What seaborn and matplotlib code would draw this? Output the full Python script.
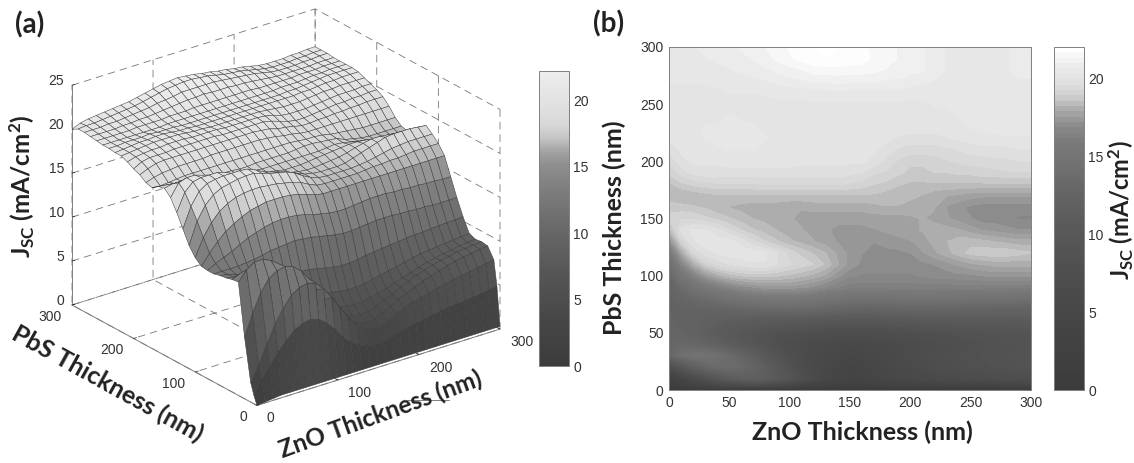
import numpy as np
import matplotlib
matplotlib.use("Agg")
import matplotlib.pyplot as plt
from matplotlib.lines import Line2D
from matplotlib.cm import ScalarMappable
from matplotlib.colors import Normalize
from mpl_toolkits.mplot3d import proj3d
import seaborn as sns

zno = np.arange(0, 301, 10)
pbs = np.array([0, 5] + list(range(10, 301, 10)))
ticks_nm = [0, 100, 200, 300]
ticks_jsc = [0, 5, 10, 15, 20, 25]

pbs_000 = [0,.1,.2,.3,.3,.3,.3,.3,.3,.3,.3,.3,.3,.3,.3,.3,.3,.3,.3,.3,.3,.3,.3,.3,.3,.3,.3,.3,.3,.3,.3]
pbs_005 = [1,2.5,3.8,5,6,6.9,7.4,7.6,7.3,6.6,5.6,4.4,3.5,2.9,2.5,2.4,2.4,2.7,3,3.2,3.4,3.5,3.7,3.9,4,4.1,4.2,4.3,4.4,4.6,4.7]
pbs_010 = [2.2,4,6,8,9.5,10.7,11.3,11.5,11.2,10.3,9,7.6,6.2,5,4.3,3.9,3.9,4.3,4.8,5.2,5.6,5.8,6,6.3,6.5,6.7,6.9,7,7.2,7.4,7.5]
pbs_020 = [7,9.5,11.5,12.8,13.4,13.6,13.3,12.5,11.3,9.8,8.4,7,5.8,5,4.5,4.3,4.4,4.8,5.3,5.8,6.2,6.6,7,7.3,7.6,7.9,8.1,8.3,8.4,8.6,8.7]
pbs_030 = [12.9,14,14.6,14.6,14.2,13.5,12.5,11.3,10,8.8,7.7,6.7,6,5.4,5,4.8,4.9,5.2,5.6,6,6.5,6.9,7.3,7.6,7.9,8.1,8.3,8.5,8.6,8.7,8.8]
pbs_040 = [12.8,13.2,13,12.5,11.8,11,10.2,9.3,8.5,7.8,7.1,6.6,6.2,5.9,5.7,5.6,5.6,5.8,6,6.3,6.6,6.9,7.2,7.5,7.8,8,8.2,8.3,8.5,8.6,8.7]
pbs_050 = [12.6,12.4,12,11.4,10.8,10.2,9.6,9.1,8.7,8.3,8,7.7,7.4,7.2,7,6.9,6.9,7,7.2,7.4,7.6,7.8,8,8.2,8.4,8.5,8.6,8.7,8.8,8.9,9]
pbs_060 = [12.5,12.3,12,11.6,11.3,11,10.8,10.6,10.5,10.3,10.1,10,9.8,9.6,9.4,9.3,9.3,9.4,9.6,9.7,9.8,9.9,10,10.1,10.2,10.2,10.3,10.3,10.4,10.4,10.5]
pbs_070 = [12.3,12.3,12.3,12.3,12.4,12.5,12.7,12.9,13,13.1,13.2,13.1,13,12.8,12.6,12.4,12.3,12.3,12.4,12.5,12.6,12.6,12.6,12.5,12.5,12.4,12.4,12.3,12.3,12.3,12.3]
pbs_080 = [12.3,12.8,13.2,13.6,14.1,14.6,14.9,15.2,15.4,15.5,15.5,15.4,15.2,14.9,14.7,14.5,14.4,14.4,14.5,14.6,14.7,14.7,14.7,14.6,14.6,14.5,14.5,14.4,14.4,14.3,14.3]
pbs_090 = [12.4,13.6,14.6,15.5,16.1,16.6,17,17.2,17.4,17.4,17.4,17.3,17.1,16.8,16.5,16.3,16.3,16.3,16.3,16.3,16.3,16.3,16.3,16.3,16.3,16.3,16.3,16.3,16.3,16.3,16.3]
pbs_100 = [13,15,16.4,17.4,18,18.4,18.6,18.7,18.7,18.6,18.5,18.3,18.1,17.8,17.3,16.9,16.8,16.8,16.8,16.8,16.8,16.9,17,17,17.1,17.1,17.2,17.3,17.3,17.3,17.3]
pbs_110 = [14,16.5,18,18.9,19.4,19.6,19.8,19.9,19.9,19.6,19.3,19.1,18.9,18.5,17.9,17.4,17.1,17,17,17,17,17.1,17.2,17.4,17.6,17.8,17.9,18,18,18,18]
pbs_120 = [15.5,17.8,19.2,19.8,20,20.1,20.1,20.1,20,19.6,19.1,18.8,18.5,18.2,17.8,17.4,17.2,17.1,17.1,17.1,17.2,17.5,17.8,18.1,18.4,18.7,18.8,18.8,18.8,18.7,18.6]
pbs_130 = [17,19,19.9,20.1,20.1,20.1,19.8,19.3,18.9,18.6,18.3,18.1,17.9,17.7,17.5,17.3,17.2,17.2,17.3,17.4,17.5,17.7,18,18.2,18.4,18.4,18.3,18.2,18.1,18,18]
pbs_140 = [18.3,19.7,20,20,19.7,19.3,18.9,18.6,18.4,18.2,18,17.9,17.7,17.6,17.4,17.4,17.4,17.5,17.6,17.7,17.8,17.9,18,18,17.9,17.7,17.5,17.4,17.3,17.2,17.2]
pbs_150 = [19,19.2,19.2,19,18.8,18.6,18.4,18.2,18.1,18,17.9,17.8,17.7,17.7,17.7,17.7,17.7,17.7,17.7,17.7,17.8,17.9,17.8,17.6,17.4,17.2,17,17,16.9,16.8,16.8]
pbs_160 = [18.8,18.7,18.6,18.5,18.3,18.2,18.1,18,18,18,17.9,17.9,18,18,18,18,18,18.1,18.2,18.2,18.1,18,17.9,17.5,17.3,17.1,17,17,17,17,17]
pbs_170 = [18.3,18.2,18.3,18.4,18.5,18.5,18.5,18.5,18.5,18.5,18.5,18.5,18.5,18.5,18.5,18.5,18.5,18.5,18.4,18.3,18.3,18.2,18,17.9,17.8,17.7,17.6,17.6,17.6,17.6,17.6]
pbs_180 = [18.5,18.8,19,19.1,19.2,19.2,19.2,19.2,19.3,19.3,19.3,19.3,19.3,19.3,19.3,19.2,19.1,18.9,18.8,18.6,18.5,18.5,18.5,18.5,18.5,18.5,18.5,18.5,18.5,18.5,18.5]
pbs_190 = [19,19.4,19.7,19.8,19.8,19.8,19.8,19.8,19.8,19.8,19.8,19.8,19.8,19.8,19.8,19.7,19.6,19.3,19.2,19,18.8,18.8,18.9,18.9,19,19,19.1,19.1,19.2,19.2,19.2]
pbs_200 = [19.3,19.8,20,20,20,20.1,20.1,20.1,20.1,20.1,20.1,20,20,20,20,20,20,19.8,19.5,19.2,19,19,19.1,19.2,19.3,19.4,19.4,19.5,19.5,19.6,19.6]
pbs_210 = [19.7,20,20.1,20.2,20.2,20.3,20.3,20.3,20.2,20.2,20.2,20.2,20.1,20.1,20.1,20.1,20.1,20,19.8,19.5,19.4,19.4,19.4,19.5,19.6,19.7,19.8,19.8,19.8,19.9,19.9]
pbs_220 = [20,20.1,20.2,20.3,20.4,20.4,20.4,20.4,20.3,20.2,20.2,20.1,20.1,20.1,20.1,20.1,20.1,20.1,20,19.9,19.8,19.8,19.8,19.9,20,20.1,20.1,20.2,20.2,20.2,20.2]
pbs_230 = [20,20.1,20.2,20.3,20.3,20.4,20.4,20.3,20.2,20.2,20.1,20.1,20.1,20.1,20.1,20.1,20.1,20.1,20.1,20.1,20.1,20.1,20.1,20.2,20.2,20.3,20.4,20.4,20.5,20.5,20.5]
pbs_240 = [20.1,20.1,20.2,20.2,20.2,20.3,20.2,20.2,20.2,20.1,20.1,20.1,20.1,20.1,20.1,20.1,20.1,20.1,20.1,20.1,20.1,20.1,20.2,20.2,20.3,20.4,20.5,20.6,20.6,20.6,20.6]
pbs_250 = [20.1,20.1,20.1,20.1,20.1,20.1,20.1,20.1,20.2,20.2,20.2,20.2,20.2,20.2,20.2,20.2,20.2,20.2,20.2,20.2,20.2,20.2,20.3,20.3,20.3,20.4,20.5,20.5,20.6,20.6,20.6]
pbs_260 = [20.2,20.2,20.2,20.2,20.2,20.3,20.3,20.3,20.3,20.4,20.4,20.4,20.5,20.5,20.5,20.5,20.5,20.5,20.5,20.5,20.4,20.4,20.4,20.4,20.4,20.5,20.5,20.5,20.6,20.6,20.6]
pbs_270 = [20.3,20.3,20.3,20.3,20.4,20.4,20.5,20.5,20.6,20.7,20.8,20.9,21,21,21.1,21,21,21,20.9,20.9,20.8,20.7,20.6,20.5,20.5,20.5,20.5,20.5,20.6,20.6,20.6]
pbs_280 = [20.4,20.4,20.4,20.5,20.5,20.6,20.7,20.8,20.9,21.1,21.2,21.3,21.5,21.5,21.5,21.5,21.5,21.4,21.3,21.2,21.1,21,20.8,20.6,20.5,20.5,20.5,20.6,20.6,20.7,20.7]
pbs_290 = [20.4,20.5,20.5,20.6,20.7,20.8,20.9,21,21.2,21.4,21.6,21.8,21.9,22,22,21.9,21.8,21.6,21.4,21.3,21.2,21,20.8,20.6,20.5,20.5,20.5,20.6,20.6,20.7,20.7]
pbs_300 = [20,20.4,20.6,20.7,20.8,20.9,21,21.1,21.3,21.5,21.7,21.9,22,22.1,22,21.9,21.7,21.6,21.4,21.3,21.1,21,20.8,20.6,20.5,20.5,20.5,20.6,20.6,20.7,20.7]

jsc = np.array([pbs_000, pbs_005, pbs_010, pbs_020, pbs_030, pbs_040, pbs_050, pbs_060, pbs_070,
                pbs_080, pbs_090, pbs_100, pbs_110, pbs_120, pbs_130, pbs_140, pbs_150, pbs_160,
                pbs_170, pbs_180, pbs_190, pbs_200, pbs_210, pbs_220, pbs_230, pbs_240, pbs_250,
                pbs_260, pbs_270, pbs_280, pbs_290, pbs_300])

grays_b = ["#3c3c3c","#3e3e3e","#404040","#424242","#444444","#474747","#4a4a4a","#4d4d4d","#505050","#545454",
           "#585858","#5c5c5c","#616161","#666666","#6e6e6e","#747474","#7a7a7a","#8a8a8a","#a8a8a8","#d0d0d0",
           "#e2e2e2","#ececec","#ffffff"]
grays_a = ["#3c3c3c","#3f3f3f","#424242","#454545","#494949","#4e4e4e","#525252","#565656","#5c5c5c","#616161",
           "#676767","#6e6e6e","#757575","#7c7c7c","#858585","#8f8f8f","#a2a2a2","#c4c4c4","#d8d8d8","#dedede",
           "#e4e4e4","#e8e8e8","#eeeeee"]

W, H = 1134, 463
sns.set_theme(style="white")
plt.rcParams.update({"font.family": "Liberation Sans", "mathtext.fontset": "custom",
                     "mathtext.bf": "Lato:bold", "mathtext.rm": "Lato:bold", "mathtext.default": "bf"})
cmap_a = sns.blend_palette(grays_a, n_colors=256, as_cmap=True)
cmap_b = sns.blend_palette(grays_b, n_colors=256, as_cmap=True)
TICK = "#333333"
LINE = "#808080"
LABEL = dict(family="Lato", weight="bold", size=17.5, color="#222222")

fig = plt.figure(figsize=(W / 100, H / 100), dpi=100, facecolor="white")

def box(l, t, r, b):
    return [l / W, 1 - b / H, (r - l) / W, (b - t) / H]

# ---------- panel (a)
ax = fig.add_axes(box(60, 0, 500, 440), projection="3d", facecolor="none")
ax.set_proj_type("ortho")
ax.view_init(elev=24.4, azim=-127.25)
ax.set_box_aspect((1, 1, 0.79))
ax.set_xlim(0, 300, view_margin=0)
ax.set_ylim(0, 300, view_margin=0)
ax.set_zlim(0, 25, view_margin=0)
X, Y = np.meshgrid(zno, pbs)
ax.plot_surface(X, Y, jsc, cmap=cmap_a, vmin=0, vmax=22.2, rstride=1, cstride=1,
                edgecolor="#3a3a3a", linewidth=0.35, shade=False, antialiased=True)
ax.set_xticks(ticks_nm)
ax.set_yticks(ticks_nm)
ax.set_zticks(ticks_jsc)
ax.tick_params(axis="both", labelleft=False, labelbottom=False, labelright=False, labeltop=False,
               labelcolor=(1, 1, 1, 0), labelsize=1)
for axis in (ax.xaxis, ax.yaxis, ax.zaxis):
    axis.set_major_formatter(matplotlib.ticker.NullFormatter())
    axis.set_pane_color((1, 1, 1, 0))
    axis.pane.set_edgecolor((1, 1, 1, 0))
    axis.line.set_color(LINE)
    axis.line.set_linewidth(0.7)
    axis._axinfo["grid"].update(color="#777777", linestyle=(0, (9, 6)), linewidth=0.6)
    axis._axinfo["tick"].update(inward_factor=0.0, outward_factor=0.15, linewidth={True: 0.5, False: 0.5})

# fit the projected box onto its place in the figure
def to_pixels(x, y, z):
    u, v, _ = proj3d.proj_transform(x, y, z, ax.get_proj())
    return np.array(ax.transData.transform((u, v)))

pL, pR = to_pixels(0, 300, 0), to_pixels(300, 0, 0)
S0 = 440.0
c0 = np.array([280.0, H - 220.0])
s = (500 - 72) / (pR[0] - pL[0])
S = S0 * s
cen = np.array([72.0, H - 305.0]) - s * (pL - c0)
ax.set_position(box(cen[0] - S / 2, H - cen[1] - S / 2, cen[0] + S / 2, H - cen[1] + S / 2))

# tick labels of the 3D axes, anchored on the projected ticks
def tick_text(x, y, z, dx, dy, label, ha):
    p = to_pixels(x, y, z)
    fig.text((p[0] + dx) / W, (p[1] - dy) / H, label, ha=ha, va="center", fontsize=10, color=TICK)

for t in ticks_nm:
    tick_text(t, 0, 0, 10, 13, str(t), "left")
    tick_text(0, t, 0, -10, 12, str(t), "right")
for t in ticks_jsc:
    tick_text(0, 300, t, -8, -4, str(t), "right")

cax_a = fig.add_axes(box(539, 71, 569, 366))
cb_a = fig.colorbar(ScalarMappable(Normalize(0, 22.2), cmap_a), cax=cax_a, ticks=[0, 5, 10, 15, 20])
cb_a.outline.set_edgecolor(LINE)
cb_a.outline.set_linewidth(0.7)
cax_a.tick_params(axis="y", direction="in", length=3, width=0.5, color="#666666", left=True, right=True,
                  labelsize=10, labelcolor=TICK, pad=3)

fig.text(15 / W, 1 - 25 / H, "(a)", ha="left", va="center", **{**LABEL, "size": 20})
fig.text(22 / W, 1 - 186 / H, r"J$_{\mathbf{SC}}$ (mA/cm$^{\mathbf{2}}$)", rotation=90, ha="center", va="center", **LABEL)
fig.text(107 / W, 1 - 384 / H, "PbS Thickness (nm)", rotation=-29, ha="center", va="center", **{**LABEL, "size": 18})
fig.text(381 / W, 1 - 414 / H, "ZnO Thickness (nm)", rotation=20, ha="center", va="center", **{**LABEL, "size": 17.5})
fig.add_artist(Line2D([407 / W, 449 / W], [1 - 400 / H, 1 - 400 / H], color=LINE, lw=0.7))

# ---------- panel (b)
axb = fig.add_axes(box(669, 47, 1031, 390))
levels = np.linspace(0, 22, 65)
cf = axb.contourf(zno, pbs, jsc, levels=levels, cmap=cmap_b, vmin=0, vmax=22, extend="both")
axb.set_xlim(0, 300)
axb.set_ylim(0, 300)
axb.set_xticks(range(0, 301, 50))
axb.set_yticks(range(0, 301, 50))
axb.tick_params(direction="in", length=3, width=0.5, color="#555555", top=True, right=True,
                bottom=True, left=True, labelsize=10, labelcolor=TICK, pad=4)
for sp in axb.spines.values():
    sp.set_edgecolor(LINE)
    sp.set_linewidth(0.7)
fig.text(862 / W, 1 - 432 / H, "ZnO Thickness (nm)", ha="center", va="center", **{**LABEL, "size": 18})
fig.text(614 / W, 1 - 228 / H, "PbS Thickness (nm)", rotation=90, ha="center", va="center", **{**LABEL, "size": 18})

cax_b = fig.add_axes(box(1054, 47, 1084, 390))
cb_b = fig.colorbar(ScalarMappable(Normalize(0, 22), cmap_b.resampled(64)), cax=cax_b, ticks=[0, 5, 10, 15, 20])
cb_b.outline.set_edgecolor(LINE)
cb_b.outline.set_linewidth(0.7)
cax_b.tick_params(axis="y", direction="in", length=3, width=0.5, color="#666666", left=True, right=True,
                  labelsize=10, labelcolor=TICK, pad=3)
fig.text(1121 / W, 1 - 210 / H, r"J$_{\mathbf{SC}}$ (mA/cm$^{\mathbf{2}}$)", rotation=90, ha="center", va="center", **{**LABEL, "size": 17})
fig.text(593 / W, 1 - 24 / H, "(b)", ha="left", va="center", **{**LABEL, "size": 20})

fig.savefig("out.png", dpi=100, facecolor="white")
